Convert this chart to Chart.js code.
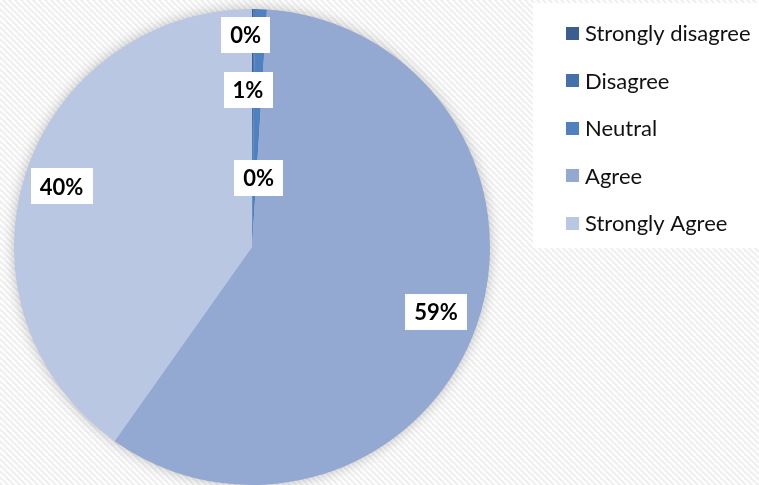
<!DOCTYPE html>
<html>
<head>
<meta charset="utf-8">
<script src="https://cdn.jsdelivr.net/npm/chart.js@4/dist/chart.umd.min.js"></script>
<style>
  html, body { margin: 0; padding: 0; background: #fff; }
  #pie { display: block; }
</style>
</head>
<body>
<canvas id="pie" width="759" height="485"></canvas>
<script>
// answers in legend order
const categories = ['Strongly disagree', 'Disagree', 'Neutral', 'Agree', 'Strongly Agree'];
const shares = [0.1, 0.1, 0.8, 58.8, 40.2];
const sliceColors = ['#3b5e8e', '#4471aa', '#4f81c0', '#93a9d2', '#b9c7e3'];

// where each % box sits: fraction of the radius, plus a small sideways nudge
const labelRadius = [0.89, 0.29, 0.66, 0.82, 0.84];
const labelNudgeX = [-7, 6, -10, 0, 0];

function makeStripes() {
    const c = document.createElement('canvas');
    c.width = 6; c.height = 6;
    const g = c.getContext('2d');
    g.fillStyle = '#f0f0f0';
    g.fillRect(0, 0, 6, 6);
    g.strokeStyle = '#ffffff';
    g.lineWidth = 2;
    for (let k = -6; k <= 12; k += 6) {
        g.beginPath();
        g.moveTo(k, 0);
        g.lineTo(k + 6, 6);
        g.stroke();
    }
    return c;
}

const backdrop = {
    id: 'backdrop',
    beforeDraw(chart) {
        const ctx = chart.ctx;
        ctx.save();
        ctx.fillStyle = ctx.createPattern(makeStripes(), 'repeat');
        ctx.fillRect(0, 0, chart.width, chart.height);
        ctx.restore();
    },
    beforeDatasetsDraw(chart) {
        // soft shadow round the pie
        const arc = chart.getDatasetMeta(0).data[0];
        if (!arc) return;
        const ctx = chart.ctx;
        ctx.save();
        ctx.shadowColor = 'rgba(0,0,0,0.28)';
        ctx.shadowBlur = 14;
        ctx.fillStyle = '#b9c7e3';
        ctx.beginPath();
        ctx.arc(arc.x, arc.y, arc.outerRadius - 1, 0, Math.PI * 2);
        ctx.fill();
        ctx.restore();
    }
};

const pctLabels = {
    id: 'pctLabels',
    afterDatasetsDraw(chart) {
        const ctx = chart.ctx;
        const meta = chart.getDatasetMeta(0);
        ctx.save();
        ctx.font = 'bold 22px Lato, "Open Sans", sans-serif';
        ctx.textAlign = 'center';
        ctx.textBaseline = 'middle';
        meta.data.forEach((arc, i) => {
            const mid = (arc.startAngle + arc.endAngle) / 2;
            const r = arc.outerRadius * labelRadius[i];
            const x = arc.x + Math.cos(mid) * r + labelNudgeX[i];
            const y = arc.y + Math.sin(mid) * r;
            const text = Math.round(shares[i]) + '%';
            const w = ctx.measureText(text).width + 18;
            const h = 36;
            ctx.fillStyle = '#ffffff';
            ctx.fillRect(Math.round(x - w / 2), Math.round(y - h / 2), Math.round(w), h);
            ctx.fillStyle = '#000000';
            ctx.fillText(text, x, y + 1);
        });
        ctx.restore();
    }
};

const sideLegend = {
    id: 'sideLegend',
    afterDraw(chart) {
        const ctx = chart.ctx;
        const left = 533, top = 3, width = 226, height = 245;
        ctx.save();
        ctx.fillStyle = '#ffffff';
        ctx.fillRect(left, top, width, height);
        ctx.font = '22px Lato, "Open Sans", sans-serif';
        ctx.textBaseline = 'middle';
        ctx.textAlign = 'left';
        const ds = chart.data.datasets[0];
        chart.data.labels.forEach((name, i) => {
            const cy = 33 + i * 47.5;
            ctx.fillStyle = ds.backgroundColor[i];
            ctx.fillRect(566, Math.round(cy - 6.5), 13, 13);
            ctx.fillStyle = '#111111';
            ctx.fillText(name, 585, cy + 1);
        });
        ctx.restore();
    }
};

new Chart(document.getElementById('pie'), {
    type: 'pie',
    data: {
        labels: categories,
        datasets: [{
            data: shares,
            backgroundColor: sliceColors,
            borderWidth: 0
        }]
    },
    options: {
        responsive: false,
        animation: false,
        devicePixelRatio: 1,
        layout: { padding: { left: 14, top: 9, right: 269, bottom: 0 } },
        plugins: {
            legend: { display: false },
            tooltip: { enabled: false }
        }
    },
    plugins: [backdrop, pctLabels, sideLegend]
});
</script>
</body>
</html>
